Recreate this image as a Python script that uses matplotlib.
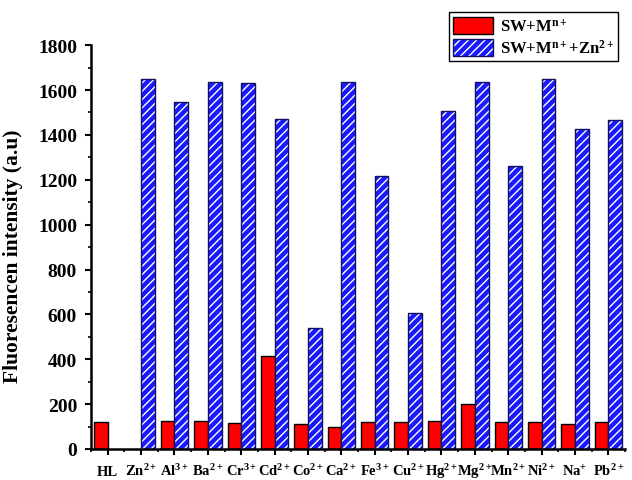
import matplotlib
matplotlib.use("Agg")
import matplotlib.pyplot as plt
import numpy as np
from matplotlib.ticker import MultipleLocator

plt.rcParams['font.family'] = ['Liberation Serif', 'DejaVu Serif']
plt.rcParams['font.weight'] = 'bold'
plt.rcParams['mathtext.fontset'] = 'custom'
plt.rcParams['mathtext.rm'] = 'Liberation Serif:bold'
plt.rcParams['mathtext.it'] = 'Liberation Serif:bold'
plt.rcParams['mathtext.bf'] = 'Liberation Serif:bold'
plt.rcParams['mathtext.default'] = 'rm'

categories = ['HL', 'Zn$^{2+}$', 'Al$^{3+}$', 'Ba$^{2+}$', 'Cr$^{3+}$', 'Cd$^{2+}$',
              'Co$^{2+}$', 'Ca$^{2+}$', 'Fe$^{3+}$', 'Cu$^{2+}$', 'Hg$^{2+}$',
              'Mg$^{2+}$', 'Mn$^{2+}$', 'Ni$^{2+}$', 'Na$^{+}$', 'Pb$^{2+}$']
sw_m = [120, 0, 125, 125, 118, 415, 110, 100, 120, 120, 125, 200, 120, 120, 112, 120]
sw_m_zn = [0, 1650, 1545, 1635, 1630, 1470, 540, 1635, 1215, 607, 1505, 1635, 1262, 1650, 1425, 1465]

fig = plt.figure(figsize=(6.32, 4.81), dpi=100)
ax = fig.add_axes([0.144, 0.0645, 0.845, 0.8395])

x = np.arange(len(categories))
w = 0.41
red = ax.bar(x - w/2, sw_m, width=w, color='#ff0000', edgecolor='black', linewidth=1.0, zorder=2)
blue_fill = ax.bar(x + w/2, sw_m_zn, width=w, color='#1a1aff', edgecolor='white',
                   hatch='////', linewidth=0, zorder=2)
blue_edge = ax.bar(x + w/2, sw_m_zn, width=w, fill=False, edgecolor='#101060',
                   linewidth=1.0, zorder=3)
for i, v in enumerate(sw_m_zn):
    if v == 0:
        blue_edge[i].set_visible(False)
for i, v in enumerate(sw_m):
    if v == 0:
        red[i].set_visible(False)

ax.set_xlim(-0.5, len(categories) - 0.5)
ax.set_ylim(0, 1800)
ax.set_xticks(x)
ax.set_xticklabels(categories, fontsize=10.5, fontweight='bold', va='baseline')
ax.xaxis.set_minor_locator(MultipleLocator(0.5))
ax.yaxis.set_major_locator(MultipleLocator(200))
ax.yaxis.set_minor_locator(MultipleLocator(100))
ax.tick_params(axis='both', which='major', length=4, width=1.5, direction='out')
ax.tick_params(axis='both', which='minor', length=2.5, width=1.2, direction='out')
ax.tick_params(axis='x', which='major', pad=15)
ax.tick_params(axis='y', which='major', labelsize=14, pad=6)
for lab in ax.get_yticklabels():
    lab.set_fontweight('bold')
ax.spines['top'].set_visible(False)
ax.spines['right'].set_visible(False)
ax.spines['left'].set_linewidth(1.8)
ax.spines['bottom'].set_linewidth(1.8)
ax.set_ylabel('Fluoresencen intensity (a.u)', fontsize=15.5, fontweight='bold', labelpad=6)
ax.yaxis.set_label_coords(-0.128, 0.48)

leg = fig.legend([red[0], (blue_fill[1], blue_edge[1])],
                 ['SW+M$^{n+}$', 'SW+M$^{n+}$+Zn$^{2+}$'],
                 loc='upper right', bbox_to_anchor=(0.978, 0.972),
                 fancybox=False, edgecolor='black', framealpha=1,
                 prop={'size': 12, 'weight': 'bold'}, handlelength=2.4,
                 handleheight=1.2, borderpad=0.25, labelspacing=0.25, handletextpad=0.4,
                 borderaxespad=0)
leg.get_frame().set_linewidth(1.0)

fig.savefig('out.png', dpi=100)
